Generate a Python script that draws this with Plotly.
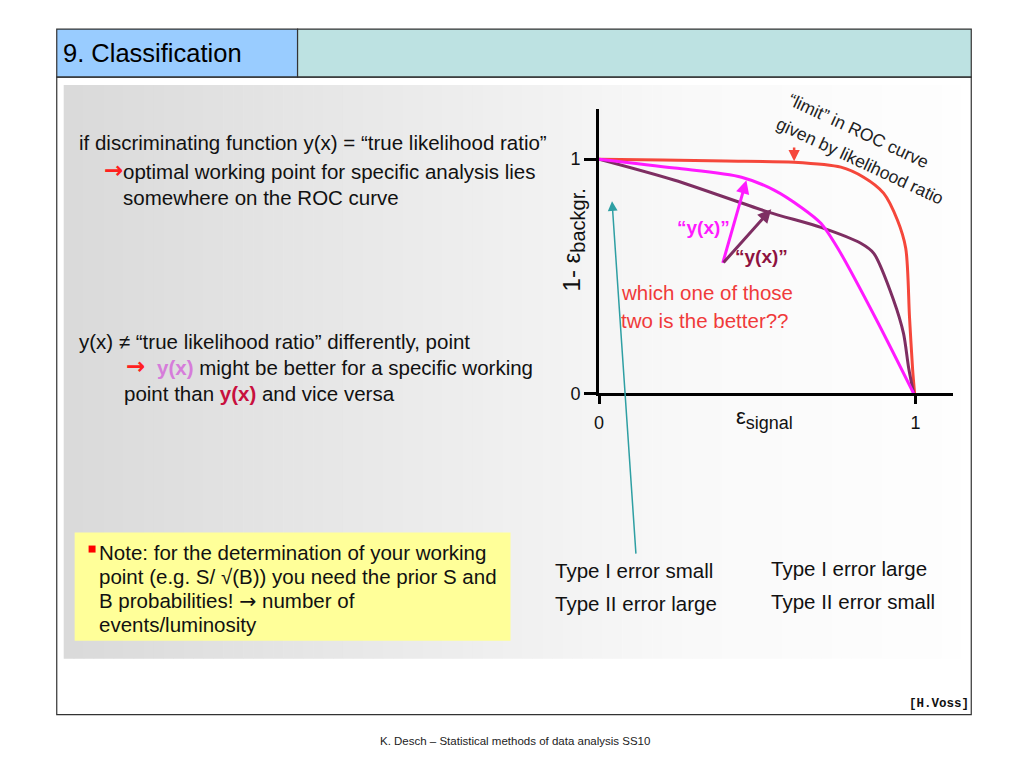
import plotly.graph_objects as go

W, H = 1024, 768

# ---------------- data ----------------
# ROC curve given by the true likelihood ratio ("limit")
lr_eff_sig = [0.0, 0.20, 0.40, 0.616, 0.764, 0.836, 0.899, 0.943, 0.969, 0.981, 0.991, 0.997]
lr_rej_bkg = [1.0, 0.996, 0.992, 0.987, 0.966, 0.923, 0.855, 0.739, 0.620, 0.325, 0.098, 0.0]

# first discriminant y(x) (magenta)
ya_eff_sig = [0.0, 0.239, 0.450, 0.553, 0.638, 0.701, 0.758, 0.874, 0.994]
ya_rej_bkg = [1.0, 0.962, 0.923, 0.868, 0.795, 0.726, 0.611, 0.321, 0.0]

# second discriminant y(x) (purple)
yb_eff_sig = [0.0, 0.239, 0.535, 0.701, 0.827, 0.868, 0.931, 0.962, 0.978, 0.994]
yb_rej_bkg = [1.0, 0.910, 0.774, 0.709, 0.641, 0.598, 0.397, 0.256, 0.111, 0.0]

tick_vals = [0, 1]
tick_text = ["0", "1"]

# ---------------- geometry helpers ----------------
FONT = "Liberation Sans, Arial, sans-serif"
BODY = 20.5
K = 0.986      # vertical compensation for the page capture


def px(x):
    return x / W


def py(y):
    return 1 - (y / K) / H


X0_PX, X1_PX = 597, 915      # pixel of eff_sig = 0 / 1
Y0_PX, Y1_PX = 393, 159      # pixel of 1-eff_bkg = 0 / 1
SX = X1_PX - X0_PX
SY = Y0_PX - Y1_PX
XEND_PX, YTOP_PX = 953, 109


def dx(p):
    return (p - X0_PX) / SX


def dy(p):
    return (Y0_PX - p) / SY


fig = go.Figure()

RED = "#F5473B"
MAG = "#FF1AFF"
PUR = "#7E2E62"

fig.add_trace(go.Scatter(x=lr_eff_sig, y=lr_rej_bkg, mode="lines",
                         line=dict(color=RED, width=3, shape="spline", smoothing=0.8),
                         hoverinfo="skip", showlegend=False))
fig.add_trace(go.Scatter(x=yb_eff_sig, y=yb_rej_bkg, mode="lines",
                         line=dict(color=PUR, width=3, shape="spline", smoothing=0.8),
                         hoverinfo="skip", showlegend=False))
fig.add_trace(go.Scatter(x=ya_eff_sig, y=ya_rej_bkg, mode="lines",
                         line=dict(color=MAG, width=3, shape="spline", smoothing=0.8),
                         hoverinfo="skip", showlegend=False))

shapes = []

# gradient grey panel (vertical stripes)
PL, PR, PT, PB = 59, 961, 85, 658
n = 90
for i in range(n):
    x0 = PL + (PR - PL) * i / n
    x1 = PL + (PR - PL) * (i + 1) / n + 0.6
    t = (x0 - PL) / (PR - PL)
    if t < 0.7:
        c = 218 + (249 - 218) * (t / 0.7)
    else:
        c = 249 + (254 - 249) * ((t - 0.7) / 0.3)
    c = int(round(c))
    shapes.append(dict(type="rect", xref="paper", yref="paper", layer="below",
                       x0=px(x0), x1=px(min(x1, PR)), y0=py(PB), y1=py(PT),
                       line=dict(width=0), fillcolor=f"rgb({c},{c},{c})"))

# yellow note box
shapes.append(dict(type="rect", xref="paper", yref="paper", layer="below",
                   x0=px(70), x1=px(508), y0=py(640), y1=py(532),
                   line=dict(width=0), fillcolor="#FFFF99"))
# red bullet
shapes.append(dict(type="rect", xref="paper", yref="paper", layer="below",
                   x0=px(84), x1=px(91), y0=py(552), y1=py(545),
                   line=dict(width=0), fillcolor="#FF0000"))

# header bar
shapes.append(dict(type="rect", xref="paper", yref="paper", layer="below",
                   x0=px(52), x1=px(294), y0=py(77), y1=py(29),
                   line=dict(color="#333333", width=1.2), fillcolor="#99CCFF"))
shapes.append(dict(type="rect", xref="paper", yref="paper", layer="below",
                   x0=px(294), x1=px(971), y0=py(77), y1=py(29),
                   line=dict(color="#333333", width=1.2), fillcolor="#BDE2E2"))
# slide frame
shapes.append(dict(type="rect", xref="paper", yref="paper", layer="above",
                   x0=px(52), x1=px(971), y0=py(714), y1=py(77),
                   line=dict(color="#333333", width=1.2), fillcolor="rgba(0,0,0,0)"))

ann = []
XPAD = 5


def text(x, y, s, size=BODY, color="#111111", xanchor="left", yanchor="middle",
         family=FONT, angle=0, align="left"):
    if xanchor == "left":
        x -= XPAD
    elif xanchor == "right":
        x += XPAD - 2
    ann.append(dict(x=px(x), y=py(y), xref="paper", yref="paper", text=s,
                    showarrow=False, xanchor=xanchor, yanchor=yanchor,
                    textangle=angle, align=align,
                    font=dict(family=family, size=size, color=color)))


ARROW_FONT = "DejaVu Sans, sans-serif"

# title
text(61, 53, "9. Classification", size=25.5, color="#000000")

# left text
text(77, 142, "if discriminating function y(x) = “true likelihood ratio”")
text(102, 170, "<b>→</b>", size=23, color="#FF2020", family=ARROW_FONT)
text(122, 171, "optimal working point for specific analysis lies")
text(122, 197, "somewhere on the ROC curve")

text(77, 341, "y(x) ≠ “true likelihood ratio” differently, point")
text(125, 366, "<b>→</b>", size=23, color="#FF2020", family=ARROW_FONT)
text(156, 367, '<span style="color:#D67CDA"><b>y(x)</b></span> might be better for a specific working')
text(123, 393, 'point than <span style="color:#C8103E"><b>y(x)</b></span> and vice versa')

# note box
text(97, 552, "Note: for the determination of your working")
text(97, 576, "point (e.g. S/ √(B)) you need the prior S and")
text(97, 600, 'B probabilities! <span style="font-family:DejaVu Sans">→</span> number of')
text(97, 624, "events/luminosity")

# chart texts
text(622, 292, "which one of those", color="#F03A3A")
text(622, 320, "two is the better??", color="#F03A3A")
text(678, 227, "<b>“y(x)”</b>", size=19, color="#FF1AFF")
text(737, 256, "<b>“y(x)”</b>", size=19, color="#8E1240")

text(858, 131, "“limit” in ROC curve", size=17.5, color="#222222",
     xanchor="center", angle=25)
text(859, 161, "given by likelihood ratio", size=17.5, color="#222222",
     xanchor="center", angle=25)

# axis titles
text(763, 418, 'ε<sub><span style="font-size:18px">signal</span></sub>', size=22,
     color="#111111", xanchor="center")
text(571, 240, '1- ε<sub><span style="font-size:20px">backgr.</span></sub>', size=24,
     color="#111111", xanchor="center", angle=-90)

# type I / II texts
text(556, 570, "Type I error small")
text(556, 603, "Type II error large")
text(773, 568, "Type I error large")
text(773, 601, "Type II error small")

# credit / footer
text(968, 703, "<b>[H.Voss]</b>", size=12.5, color="#111111", xanchor="right",
     family="Liberation Mono, Courier New, monospace")
text(512, 740, "K. Desch – Statistical methods of data analysis SS10", size=11.5,
     color="#222222", xanchor="center")


def arrow(tip_px, tail_px, color, width, size=1.0, head=2):
    ann.append(dict(x=dx(tip_px[0]), y=dy(tip_px[1]), xref="x", yref="y",
                    ax=tail_px[0] - tip_px[0], ay=(tail_px[1] - tip_px[1]) / K,
                    text="", showarrow=True, arrowhead=head, arrowsize=size,
                    arrowwidth=width, arrowcolor=color, standoff=0, startstandoff=0))


# axis arrowheads
arrow((XEND_PX + 4, Y0_PX), (XEND_PX - 10, Y0_PX), "#000000", 3, 1.0)
arrow((X0_PX, YTOP_PX - 4), (X0_PX, YTOP_PX + 10), "#000000", 3, 1.0)
# pointers
arrow((793, 161), (793, 146), RED, 2.5, 0.9)
arrow((745, 180), (721, 263), MAG, 3, 0.9)
arrow((770, 209), (721, 263), PUR, 3, 0.9)
arrow((610, 201), (634, 550), "#2E9FA3", 1.5, 1.3)
arrow((892, 419), (853, 551), "#2E9FA3", 1.5, 1.3)

fig.update_layout(
    width=W, height=H,
    margin=dict(l=0, r=0, t=0, b=0),
    paper_bgcolor="#FFFFFF",
    plot_bgcolor="rgba(0,0,0,0)",
    shapes=shapes,
    annotations=ann,
    showlegend=False,
    xaxis=dict(domain=[px(X0_PX), px(XEND_PX)],
               range=[0, (XEND_PX - X0_PX) / SX],
               showgrid=False, zeroline=False,
               showline=True, linecolor="#000000", linewidth=3,
               tickmode="array", tickvals=tick_vals, ticktext=tick_text,
               ticks="outside", ticklen=8, tickwidth=2.5, tickcolor="#000000",
               ticklabelstandoff=3,
               tickfont=dict(family=FONT, size=18, color="#111111"),
               fixedrange=True),
    yaxis=dict(domain=[py(Y0_PX), py(YTOP_PX)],
               range=[0, (Y0_PX - YTOP_PX) / SY],
               showgrid=False, zeroline=False,
               showline=True, linecolor="#000000", linewidth=3,
               tickmode="array", tickvals=tick_vals, ticktext=tick_text,
               ticks="outside", ticklen=12, tickwidth=3, tickcolor="#000000",
               tickfont=dict(family=FONT, size=18, color="#111111"),
               fixedrange=True),
)

fig.write_html("out.html",
               config={"displayModeBar": False},
               post_script="document.body.style.margin='0';"
                           "document.body.style.overflow='hidden';")
